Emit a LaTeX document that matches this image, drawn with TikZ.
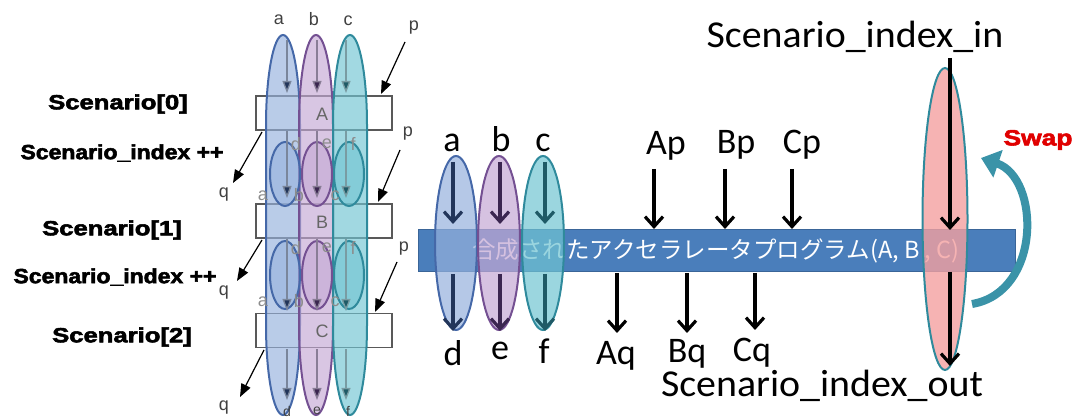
\documentclass[tikz,border=0pt]{standalone}
\usepackage{graphicx}
\usepackage{fontspec}
\setmainfont{Carlito}
\newfontfamily\arialf{Liberation Sans}
\newfontfamily\heavyf[FakeBold=2.5]{Liberation Sans Bold}
\newfontfamily\cjkf{Noto Sans CJK JP}
\usetikzlibrary{arrows.meta,shapes.geometric}
\definecolor{barfill}{HTML}{4A7EBB}
\definecolor{barline}{HTML}{3A6598}
\definecolor{afill}{HTML}{95B1DD}
\definecolor{aline}{HTML}{4568A8}
\definecolor{bfill}{HTML}{C4A8D4}
\definecolor{bline}{HTML}{745092}
\definecolor{cfill}{HTML}{70C4D2}
\definecolor{cline}{HTML}{2F8A9C}
\definecolor{aarr}{HTML}{22355A}
\definecolor{barr}{HTML}{3B2650}
\definecolor{carr}{HTML}{1F5A66}
\definecolor{pinkc}{HTML}{F4A0A0}
\definecolor{tealc}{HTML}{3A93A8}
\definecolor{swapred}{HTML}{E00000}
\begin{document}
\begin{tikzpicture}[x=1pt,y=-1pt,
  big/.style={font=\fontsize{36}{38}\selectfont, inner sep=0, anchor=base},
  huge/.style={font=\fontsize{38}{40}\selectfont, inner sep=0, anchor=base},
  scen/.style={font=\heavyf\fontsize{20.5}{21}\selectfont, inner sep=0},
  small/.style={font=\arialf\fontsize{18}{18}\selectfont, text=black!75, inner sep=0},
  faint/.style={font=\arialf\fontsize{18}{18}\selectfont, text=black!45, inner sep=0},
  arr/.style={-{Straight Barb[length=10pt,width=18pt,line width=3.2pt]}, line width=3.6pt},
  larr/.style={-{Triangle[length=12pt,width=9pt]}, line width=1.3pt},
  parr/.style={-{Triangle[length=13pt,width=10pt]}, line width=1.2pt, black},
  sbox/.style={draw=black!65, fill=white, line width=1.2pt, minimum width=136pt, minimum height=34pt, inner sep=0},
  lell/.style={ellipse, inner sep=0, line width=2pt, fill opacity=0.7, minimum width=42pt, minimum height=174pt},
]
\useasboundingbox (0,0) rectangle (1079,419);

% ---------------- left part ----------------
\node[scen] (s0) at (118,104) {\scalebox{1.25}[1]{Scenario[0]}};
\node[scen] (i0) at (122,153) {\scalebox{1.12}[1]{Scenario\_index ++}};
\node[scen] (s1) at (112,230) {\scalebox{1.25}[1]{Scenario[1]}};
\node[scen] (i1) at (115,277) {\scalebox{1.12}[1]{Scenario\_index ++}};
\node[scen] (s2) at (122,337) {\scalebox{1.25}[1]{Scenario[2]}};

\node[sbox] (bA) at (324,113) {};
\node[sbox] (bB) at (324,221) {};
\node[sbox] (bC) at (324,330.5) {};

% tall column shapes
\foreach \cx/\fc/\lc in {283/afill/aline, 316/bfill/bline, 350/cfill/cline}{
  \path[fill=\fc, fill opacity=0.65, draw=\lc, line width=2pt]
    (\cx-17,125) arc[start angle=180, end angle=360, x radius=17, y radius=90]
    -- (\cx+17,325) arc[start angle=0, end angle=180, x radius=17, y radius=90] -- cycle;
}
% small lenses
\foreach \cx/\fc/\lc in {285/afill/aline, 317/bfill/bline, 349/cfill/cline}{
  \path[fill=\fc, fill opacity=0.6, draw=\lc, line width=2pt] (\cx,174) ellipse[x radius=15, y radius=32];
  \path[fill=\fc, fill opacity=0.6, draw=\lc, line width=2pt] (\cx,275) ellipse[x radius=15, y radius=34];
}
% box letters
\node[small, text=black!60] (lA) at (322,114) {A};
\node[small, text=black!60] (lB) at (322,222) {B};
\node[small, text=black!60] (lC) at (322,331) {C};

% top labels
\node[small] (ta) at (279,20) {a};
\node[small] (tb) at (314,19) {b};
\node[small] (tc) at (348,21) {c};
% faint intermediate labels
\node[faint] (d0) at (296,144) {d};
\node[faint] (e0) at (327,144) {e};
\node[faint] (f0) at (353,144) {f};
\node[faint] (a1) at (263,196) {a};
\node[faint] (b1) at (299,195) {b};
\node[faint] (c1) at (335,196) {c};
\node[faint] (d1) at (296,248) {d};
\node[faint] (e1) at (327,248) {e};
\node[faint] (f1) at (353,248) {f};
\node[faint] (a2) at (263,302) {a};
\node[faint] (b2) at (299,301) {b};
\node[faint] (c2) at (335,302) {c};
\node[small, font=\arialf\fontsize{14}{14}\selectfont] (d3) at (287,411) {d};
\node[small, font=\arialf\fontsize{14}{14}\selectfont] (e3) at (317,411) {e};
\node[small, font=\arialf\fontsize{14}{14}\selectfont] (f3) at (348,411) {f};

% column arrows
\foreach \x/\c in {287/aarr, 317/barr, 346/carr}{
  \coordinate (t\x) at (\x,40);   \coordinate (h\x) at (\x,93);
  \coordinate (u\x) at (\x,131);  \coordinate (k\x) at (\x,198);
  \coordinate (v\x) at (\x,239);  \coordinate (m\x) at (\x,311);
  \coordinate (w\x) at (\x,349);  \coordinate (n\x) at (\x,400);
  \draw[larr, draw=\c!60!white, -{Triangle[length=12pt,width=9pt,fill=\c]}] (t\x) -- (h\x);
  \draw[larr, draw=\c!60!white, -{Triangle[length=12pt,width=9pt,fill=\c]}] (u\x) -- (k\x);
  \draw[larr, draw=\c!60!white, -{Triangle[length=12pt,width=9pt,fill=\c]}] (v\x) -- (m\x);
  \draw[larr, draw=\c!60!white, -{Triangle[length=12pt,width=9pt,fill=\c]}] (w\x) -- (n\x);
}

% p / q labels and arrows
\node[small] (p0) at (414,28) {p};
\node[small] (p1) at (408,134) {p};
\node[small] (p2) at (404,249) {p};
\node[small] (q0) at (224,195) {q};
\node[small] (q1) at (224,293) {q};
\node[small] (q2) at (224,408) {q};
\coordinate (p0a) at (405,42);  \coordinate (p0b) at (381,94);
\coordinate (p1a) at (400,150); \coordinate (p1b) at (378,202);
\coordinate (p2a) at (397,262); \coordinate (p2b) at (375,312);
\coordinate (q0a) at (262,132); \coordinate (q0b) at (233,183);
\coordinate (q1a) at (262,240); \coordinate (q1b) at (237,281);
\coordinate (q2a) at (264,350); \coordinate (q2b) at (240,397);
\draw[parr] (p0a) -- (p0b);
\draw[parr] (p1a) -- (p1b);
\draw[parr] (p2a) -- (p2b);
\draw[parr] (q0a) -- (q0b);
\draw[parr] (q1a) -- (q1b);
\draw[parr] (q2a) -- (q2b);

% ---------------- right part ----------------
\node[draw=barline, fill=barfill, line width=1pt, minimum width=597pt, minimum height=42pt, inner sep=0] (bar) at (716.5,251) {};
\node[text=white, font=\cjkf\fontsize{23.5}{24}\selectfont, inner sep=0] (bartxt) at (716,251) {合成されたアクセラレータプログラム(A, B , C)};

\node[lell, draw=aline, fill=afill] (ea) at (456,243) {};
\node[lell, draw=bline, fill=bfill] (eb) at (499,243) {};
\node[lell, draw=cline, fill=cfill] (ec) at (543,243) {};

\node[big] (ra) at (452,152) {a};
\node[big] (rb) at (501,152) {b};
\node[big] (rc) at (543,152) {c};
\node[big] (rd) at (453,366) {d};
\node[big] (re) at (500,360) {e};
\node[big] (rf) at (544,364) {f};

\foreach \x/\c/\n in {453/aarr/a, 500/barr/b, 545/carr/c}{
  \coordinate (\n1) at (\x,162); \coordinate (\n2) at (\x,224);
  \coordinate (\n3) at (\x,274); \coordinate (\n4) at (\x,331);
  \draw[arr, \c] (\n1) -- (\n2);
  \draw[arr, \c] (\n3) -- (\n4);
}

\node[big] (Ap) at (666,155) {Ap};
\node[big] (Bp) at (736,154) {Bp};
\node[big] (Cp) at (802,154) {Cp};
\node[big] (Aq) at (616,365) {Aq};
\node[big] (Bq) at (687,363) {Bq};
\node[big] (Cq) at (752,362) {Cq};
\coordinate (Ap1) at (654,169); \coordinate (Ap2) at (654,229);
\coordinate (Bp1) at (725,169); \coordinate (Bp2) at (725,229);
\coordinate (Cp1) at (792,169); \coordinate (Cp2) at (792,229);
\coordinate (Aq1) at (617,273); \coordinate (Aq2) at (617,333);
\coordinate (Bq1) at (687,273); \coordinate (Bq2) at (687,333);
\coordinate (Cq1) at (755,273); \coordinate (Cq2) at (755,330);
\draw[arr] (Ap1) -- (Ap2);
\draw[arr] (Bp1) -- (Bp2);
\draw[arr] (Cp1) -- (Cp2);
\draw[arr] (Aq1) -- (Aq2);
\draw[arr] (Bq1) -- (Bq2);
\draw[arr] (Cq1) -- (Cq2);

\node[huge] (sin) at (855,48) {\scalebox{1.05}[1]{Scenario\_index\_in}};
\node[huge] (sout) at (822,397) {\scalebox{1.05}[1]{Scenario\_index\_out}};

\node[ellipse, draw=cline, fill=pinkc, fill opacity=0.8, line width=2pt, inner sep=0, minimum width=45pt, minimum height=302pt] (sw) at (945,219) {};
\coordinate (sw1) at (950,58);  \coordinate (sw2) at (950,230);
\coordinate (sw3) at (950,272); \coordinate (sw4) at (950,366);
\draw[arr] (sw1) -- (sw2);
\draw[arr] (sw3) -- (sw4);

\node[font=\heavyf\fontsize{22}{22}\selectfont, text=swapred, inner sep=0] (swap) at (1038,140) {\scalebox{1.2}[1]{Swap}};
\coordinate (cv1) at (972,304);
\coordinate (cv2) at (981,158);
\draw[line width=8pt, tealc, -{Triangle[length=18pt,width=28pt]}] (cv1) .. controls (1042,292) and (1040,178) .. (cv2);
\end{tikzpicture}
\end{document}
